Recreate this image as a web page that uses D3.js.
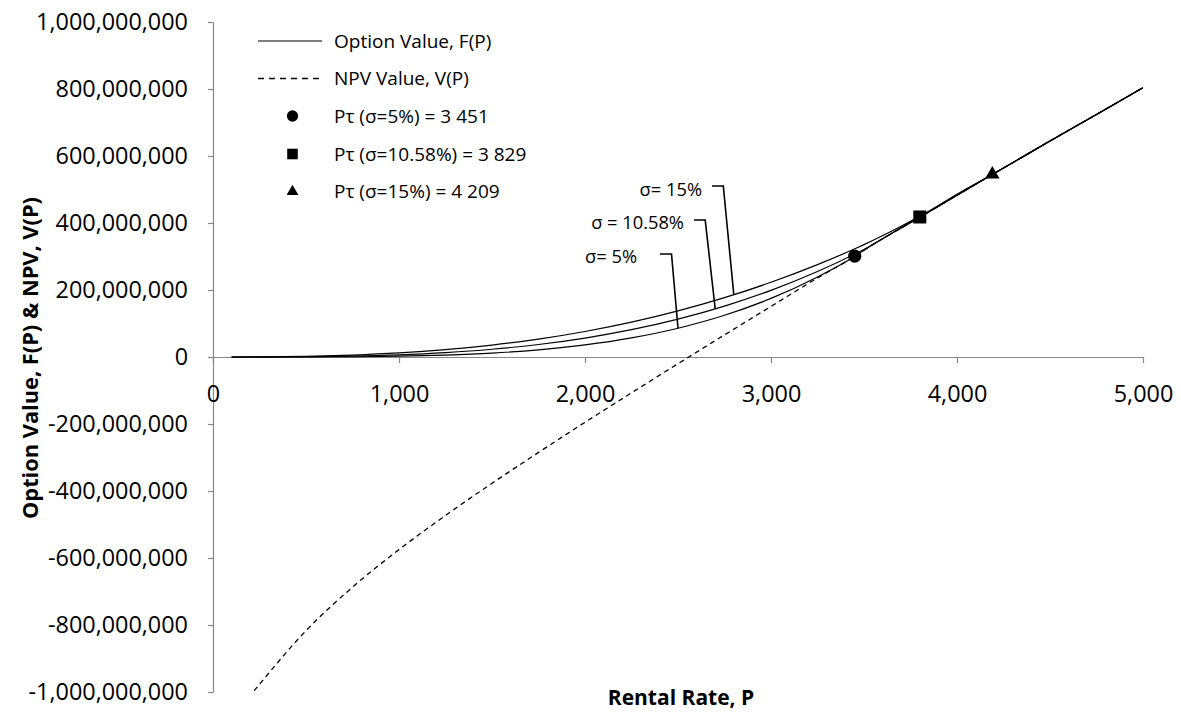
<!DOCTYPE html>
<html>
<head>
<meta charset="utf-8">
<script src="https://cdn.jsdelivr.net/npm/d3@7"></script>
<style>
  html, body { margin: 0; padding: 0; background: #ffffff; }
  svg { display: block; }
</style>
</head>
<body>
<svg id="chart" width="1181" height="713"></svg>
<script>
// ---------------- DATA (values in millions) ----------------
const rentalRates = [100, 250, 500, 750, 1000, 1250, 1500, 1750, 2000, 2250, 2500, 2750,
                     3000, 3250, 3451, 3500, 3750, 3829, 4000, 4209, 4250, 4500, 4750, 5000];

const npvValues = [-1080, -977, -817, -687, -575, -473, -377, -285, -195, -107, -20, 66,
                   151, 236, 301, 319, 401, 427, 483, 551, 564, 645, 724, 804];

const optionSigma5 = [0, 0, 0.2, 0.8, 2.4, 5.8, 11.7, 21.4, 36, 57, 85.9, 124.5,
                      174.9, 239, 301, 319, 401, 427, 483, 551, 564, 645, 724, 804];

const optionSigma1058 = [0, 0, 0.8, 2.7, 6.6, 13.2, 23.2, 37.4, 56.6, 81.6, 113.1, 152,
                         199, 255, 307.2, 321, 403, 427, 483, 551, 564, 645, 724, 804];

const optionSigma15 = [0, 0.3, 1.9, 5.7, 12.1, 21.9, 35.5, 53.5, 76.2, 104, 137.6, 177.1,
                       223, 275.7, 323.2, 335.5, 405, 429, 486, 551, 564, 645, 724, 804];

const triggerRates  = [3450, 3800, 4190];
const triggerValues = [301, 418, 545];
const triggerShapes = ["circle", "square", "triangle"];

const legendLabels = ["Option Value, F(P)", "NPV Value, V(P)",
                      "P\u03c4 (\u03c3=5%) = 3 451", "P\u03c4 (\u03c3=10.58%) = 3 829", "P\u03c4 (\u03c3=15%) = 4 209"];

const calloutLabels = ["\u03c3= 5%", "\u03c3 = 10.58%", "\u03c3= 15%"];
const calloutRates  = [2500, 2700, 2800];
const calloutValues = [85.9, 144, 186];

const xTickValues = [0, 1000, 2000, 3000, 4000, 5000];
const yTickValues = [-1000, -800, -600, -400, -200, 0, 200, 400, 600, 800, 1000];

const xTitle = "Rental Rate, P";
const yTitle = "Option Value, F(P) & NPV, V(P)";

// ---------------- LAYOUT ----------------
const FONT = "'Open Sans', 'Noto Sans', sans-serif";
const AXIS_COLOR = "#868686";
const svg = d3.select("#chart");

const x = d3.scaleLinear().domain([0, 5000]).range([213, 1143]);
const y = d3.scaleLinear().domain([-1e9, 1e9]).range([692, 22]);

const loc = d3.formatLocale({decimal: ".", thousands: ",", grouping: [3], currency: ["$", ""], minus: "-"});
const fmt = loc.format(",");

svg.append("defs").append("clipPath").attr("id", "plotclip")
  .append("rect").attr("x", 213).attr("y", 22).attr("width", 930).attr("height", 670);

const yAxis = svg.append("g").attr("transform", `translate(${x(0)},0)`)
  .call(d3.axisLeft(y).tickValues(yTickValues.map(v => v * 1e6)).tickFormat(fmt)
        .tickSize(5).tickSizeOuter(0).tickPadding(20));
const xAxis = svg.append("g").attr("transform", `translate(0,${y(0)})`)
  .call(d3.axisBottom(x).tickValues(xTickValues).tickFormat(fmt)
        .tickSize(6).tickSizeOuter(0).tickPadding(22));

[yAxis, xAxis].forEach(g => {
  g.selectAll("path.domain").attr("stroke", AXIS_COLOR).attr("stroke-width", 1.2);
  g.selectAll(".tick line").attr("stroke", AXIS_COLOR).attr("stroke-width", 1.2);
  g.selectAll(".tick text").attr("fill", "#000").style("font-family", FONT).style("font-size", "23.4px");
});

svg.append("text").attr("x", 681).attr("y", 705)
  .attr("text-anchor", "middle").style("font-family", FONT).style("font-size", "21px")
  .style("font-weight", "bold").text(xTitle);
svg.append("text").attr("transform", "translate(30,358) rotate(-90)").attr("dy", "0.35em")
  .attr("text-anchor", "middle").style("font-family", FONT).style("font-size", "21.8px")
  .style("font-weight", "bold").text(yTitle);

const plot = svg.append("g").attr("clip-path", "url(#plotclip)");
const lineGen = vals => d3.line()
  .x((d, i) => x(rentalRates[i]))
  .y(d => y(d * 1e6))
  .curve(d3.curveMonotoneX)(vals);

plot.append("path").attr("d", lineGen(npvValues)).attr("fill", "none")
  .attr("stroke", "#000").attr("stroke-width", 1.3).attr("stroke-dasharray", "5,4");
[optionSigma5, optionSigma1058, optionSigma15].forEach(vals => {
  plot.append("path").attr("d", lineGen(vals)).attr("fill", "none")
    .attr("stroke", "#000").attr("stroke-width", 1.2);
});

const symType = {circle: d3.symbolCircle, square: d3.symbolSquare, triangle: d3.symbolTriangle};
const symSize = {circle: 135, square: 170, triangle: 90};
triggerRates.forEach((r, i) => {
  svg.append("path")
    .attr("d", d3.symbol().type(symType[triggerShapes[i]]).size(symSize[triggerShapes[i]])())
    .attr("transform", `translate(${x(r)},${y(triggerValues[i] * 1e6)})`)
    .attr("fill", "#000");
});

const calloutLayout = [
  {textRight: 637, textY: 257, legX: 660, elbowY: 254, slant: 6.5},
  {textRight: 684, textY: 223, legX: 694, elbowY: 220, slant: 10},
  {textRight: 702, textY: 190, legX: 712, elbowY: 186, slant: 10.5}
];
calloutLabels.forEach((lab, i) => {
  const L = calloutLayout[i];
  const ax = x(calloutRates[i]), ay = y(calloutValues[i] * 1e6);
  const ex = ax - L.slant;
  svg.append("path").attr("d", `M${L.legX},${L.elbowY}L${ex},${L.elbowY}L${ax},${ay}`)
    .attr("fill", "none").attr("stroke", "#000").attr("stroke-width", 1.6);
  svg.append("text").attr("x", L.textRight).attr("y", L.textY).attr("dy", "0.35em")
    .attr("text-anchor", "end").style("font-family", FONT).style("font-size", "18.3px").text(lab);
});

const legendY = [41, 78.5, 116, 154, 191.5];
const lg = svg.append("g");
legendLabels.forEach((lab, i) => {
  const yy = legendY[i];
  if (i === 0) {
    lg.append("line").attr("x1", 258).attr("x2", 322).attr("y1", yy).attr("y2", yy)
      .attr("stroke", "#000").attr("stroke-width", 1.2);
  } else if (i === 1) {
    lg.append("line").attr("x1", 258).attr("x2", 322).attr("y1", yy).attr("y2", yy)
      .attr("stroke", "#000").attr("stroke-width", 1.3).attr("stroke-dasharray", "6,5");
  } else {
    const shp = triggerShapes[i - 2];
    const sz = {circle: 100, square: 112, triangle: 60}[shp];
    lg.append("path").attr("d", d3.symbol().type(symType[shp]).size(sz)())
      .attr("transform", `translate(292.5,${yy})`).attr("fill", "#000");
  }
  lg.append("text").attr("x", 334).attr("y", yy).attr("dy", "0.35em")
    .style("font-family", FONT).style("font-size", "19px").text(lab);
});
</script>
</body>
</html>
